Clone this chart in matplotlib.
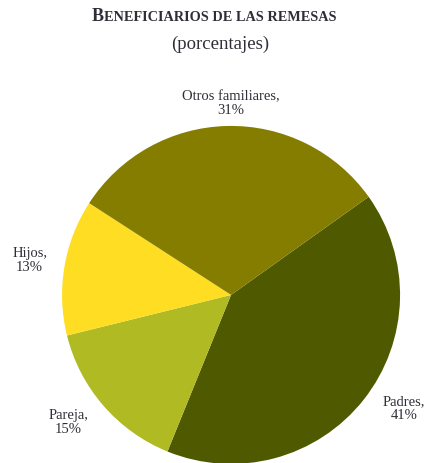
import numpy as np
import matplotlib.pyplot as plt

categorias = ['Padres', 'Pareja', 'Hijos', 'Otros familiares']
porcentajes = [41, 15, 13, 31]
colores = ['#4f5a00', '#b0ba22', '#ffdd22', '#857d00']

titulo = 'BENEFICIARIOS DE LAS REMESAS'
subtitulo = '(porcentajes)'

plt.rcParams['font.family'] = ['Liberation Serif', 'DejaVu Serif']
txt_color = '#2e2e38'

fig = plt.figure(figsize=(4.28, 4.64), dpi=100)
ax = fig.add_axes([0.145, -0.002, 338 / 428, 338 / 464])

etiquetas = [f'{c},\n{p}%' for c, p in zip(categorias, porcentajes)]
wedges, texts = ax.pie(porcentajes, labels=etiquetas, colors=colores,
                       startangle=35.5, counterclock=False, radius=1,
                       labeldistance=1.21, frame=True,
                       textprops=dict(fontsize=10.5, color=txt_color,
                                      linespacing=1.1))
# label placement (angle in degrees, distance in radii)
lugar = [(-33, 1.22), (-142, 1.22), (170, 1.21), (90, 1.14)]
for t, (ang, d) in zip(texts, lugar):
    a = np.radians(ang)
    t.set_position((d * np.cos(a), d * np.sin(a)))
    t.set_ha('center')
    t.set_va('center')
    t.set_clip_on(False)
ax.set_xlim(-1, 1)
ax.set_ylim(-1, 1)
ax.axis('off')

# small caps title
fig.canvas.draw()
r = fig.canvas.get_renderer()
piezas = [(titulo[0], 13), (titulo[1:], 10.3)]
objs = []
total = 0
for s, fs in piezas:
    t = fig.text(0, 0.955, s, fontsize=fs, fontweight='bold', color=txt_color,
                 ha='left', va='baseline')
    w = t.get_window_extent(r).width
    objs.append((t, w))
    total += w
xpx = (fig.bbox.width - total) / 2
for t, w in objs:
    t.set_x(xpx / fig.bbox.width)
    xpx += w

fig.text(0.515, 0.895, subtitulo, fontsize=13.5, color=txt_color,
         ha='center', va='baseline')

fig.savefig('out.png', dpi=100)
